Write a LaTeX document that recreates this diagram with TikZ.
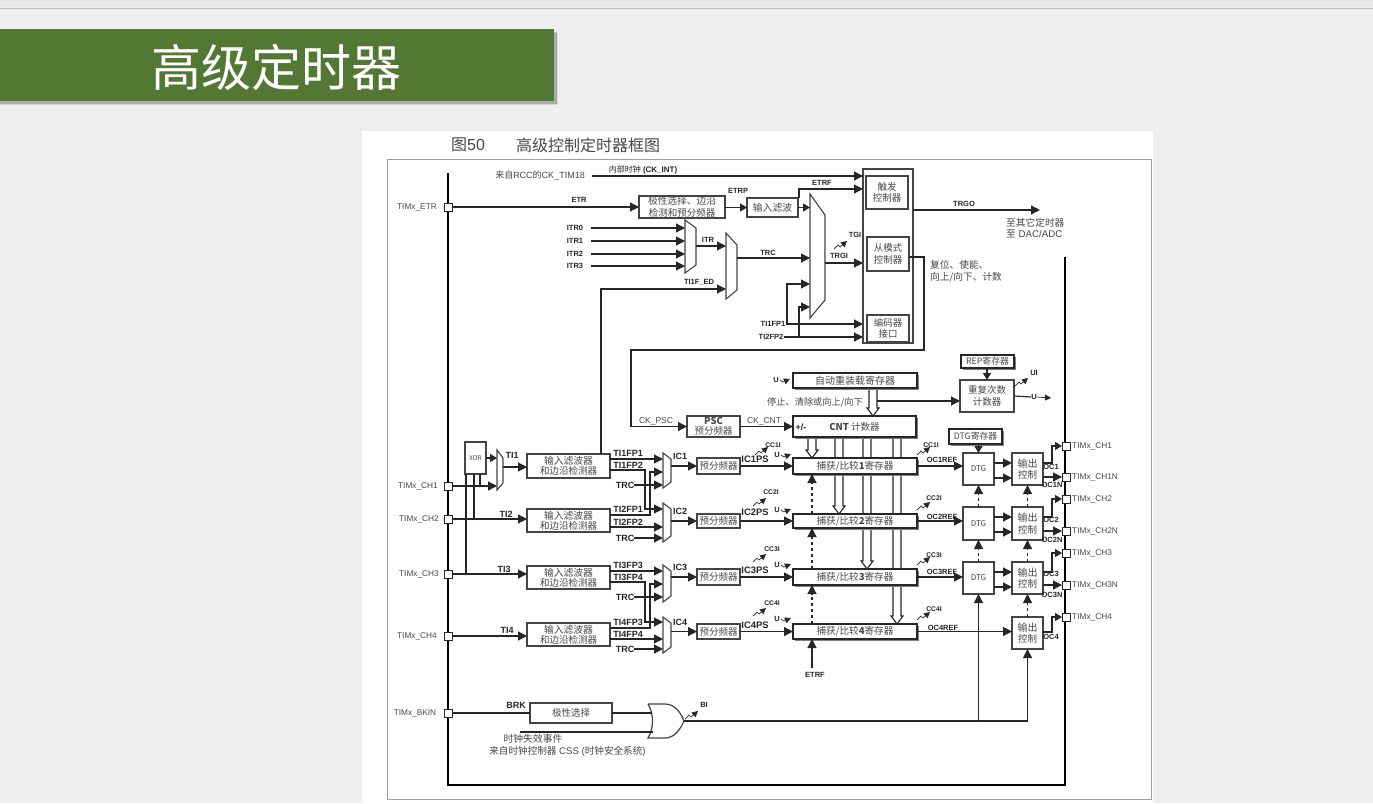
\documentclass[tikz,border=0pt]{standalone}
\usepackage{fontspec}
\setmainfont{Liberation Sans}
\newfontfamily\cjk{Noto Sans CJK SC}
\usetikzlibrary{arrows.meta,shadows,calc}
\pgfdeclarelayer{sheet}\pgfdeclarelayer{under}\pgfsetlayers{sheet,under,main}
\definecolor{bgc}{HTML}{EFEFEF}
\definecolor{wirec}{HTML}{262626}
\definecolor{boxc}{HTML}{444444}
\definecolor{txtc}{HTML}{484848}
\definecolor{ban}{HTML}{527833}
\newcommand\zh[1]{{\cjk #1}}
\newcommand\fs[1]{\pgfmathsetmacro\fsl{#1*1.2}\fontsize{#1}{\fsl}\selectfont}
\tikzset{
  wire/.style={draw=wirec,line width=1.15pt},
  arr/.style={wire,-{Triangle[length=9pt,width=9pt]}},
  sarr/.style={wire,-{Triangle[length=7pt,width=8pt]}},
  dash arr/.style={arr,dash pattern=on 3pt off 3pt},
  bus/.style={draw=black,line width=2pt},
  lab/.style={inner sep=0pt,text=wirec,font=\fs{7.5}\bfseries},
  big lab/.style={inner sep=0pt,text=wirec,font=\fs{9}\bfseries},
  pin lab/.style={inner sep=0pt,text=txtc,font=\fs{8.3}},
  zh lab/.style={inner sep=0pt,text=txtc,font=\fs{9.7},align=left},
  boxn/.style={draw=boxc,line width=1.3pt,fill=white,inner sep=0pt,outer sep=0pt,text=txtc,font=\cjk\fs{9.5},align=center},
  shbox/.style={boxn,draw=wirec,copy shadow={shadow xshift=2pt,shadow yshift=-2pt,fill=gray,draw=none}},
  sq/.style={draw=wirec,line width=1pt,fill=white,minimum size=8pt,inner sep=0pt,outer sep=0pt},
  dot/.style={fill=wirec,circle,inner sep=0pt,minimum size=2.5pt},
  hollowa/.style={draw=wirec,line width=1.1pt,fill=white},
  muxs/.style={draw=boxc,line width=1.1pt,fill=white},
  gate/.style={draw=boxc,line width=1.2pt,fill=white},
  zig/.style={draw=wirec,line width=.7pt,-{Triangle[length=6pt,width=6pt]}},
}
\newcommand\bx[7][]{%
  \pgfmathsetmacro\bxcx{(#3+#5)/2}\pgfmathsetmacro\bxcy{(#4+#6)/2}%
  \pgfmathsetmacro\bxw{#5-#3}\pgfmathsetmacro\bxh{#6-#4}%
  \node[boxn,#1,minimum width=\bxw pt,minimum height=\bxh pt] (#2) at (\bxcx,\bxcy) {#7};}
\newcommand\muxa[8]{% name xl ytop xr yrt yrb ybot yout
  \draw[muxs] (#2,#3) -- (#4,#5) -- (#4,#6) -- (#2,#7) -- cycle;
  \coordinate (#1-l) at (#2,#8); \coordinate (#1-r) at (#4,#8);}
\newcommand\hollowarrow[3]{% x, from, to
  \begin{pgfonlayer}{under}
  \path let \p1=(#2.south), \p2=(#3.north) in
    [hollowa] (#1-4,\y1) -- (#1-4,\y2+8pt) -- (#1-6,\y2+8pt) -- (#1,\y2) -- (#1+6,\y2+8pt) -- (#1+4,\y2+8pt) -- (#1+4,\y1);
  \end{pgfonlayer}}
\newcommand\zap[2]{\draw[zig] (#1,#2) -- ++(4,-4) -- ++(2,2) -- ++(7,-6);}
\newcommand\uarr[3]{\node[lab] (#1) at (#2,#3) {U};
  \draw[zig] ($(#1.east)+(1,0)$) -- ++(3,2) -- ++(7,-3);}
\begin{document}
\begin{tikzpicture}[x=1pt,y=-1pt]
\useasboundingbox (0,0) rectangle (1373,803);
\begin{pgfonlayer}{sheet}
\fill[bgc] (0,0) rectangle (1373,803);
\fill[black!9] (0,0) rectangle (1373,7);
\draw[black!25,line width=1pt] (0,8) -- (1373,8);
\fill[black,opacity=.10] (0,33) rectangle (558,105);
\fill[black,opacity=.20] (0,32) rectangle (556.5,103.5);
\fill[white] (362,131) rectangle (1153,803);
\end{pgfonlayer}
\node[draw=none,fill=ban,inner sep=0pt,minimum width=553.5pt,minimum height=72pt] (banner) at (276.75,65) {};
\node[inner sep=0pt,text=white,font=\cjk\fs{50}] (title) at (276,67) {高级定时器};
\node[draw=gray!75,line width=1pt,minimum width=764pt,minimum height=640pt,inner sep=0pt] (frame) at (769,479) {};
\node[inner sep=0pt,text=txtc,font=\fs{16}] (figno) at (468,145) {\zh{图}50};
\node[inner sep=0pt,text=txtc,font=\cjk\fs{16}] (figname) at (588,145) {高级控制定时器框图};
% bus
\coordinate (busA) at (448,173); \coordinate (busB) at (448,785);
\coordinate (busC) at (1065,785); \coordinate (busD) at (1065,257);
\draw[bus] (busA) -- (busB) -- (busC) -- (busD);
% pins
\foreach \n/\y/\t/\lx in {ETR/207/TIMx\_ETR/417,CHa/486/TIMx\_CH1/418,CHb/519/TIMx\_CH2/419,CHc/574/TIMx\_CH3/419,CHd/636/TIMx\_CH4/417,BK/713/TIMx\_BKIN/415}{
  \node[sq] (s\n) at (448,\y) {};
  \node[pin lab] (l\n) at (\lx,\y) {\t};
}
\foreach \n/\y/\t in {Oa/446/TIMx\_CH1,Ob/477/TIMx\_CH1N,Oc/499/TIMx\_CH2,Od/531/TIMx\_CH2N,Oe/553/TIMx\_CH3,Of/585/TIMx\_CH3N,Og/617/TIMx\_CH4}{
  \node[sq] (s\n) at (1066,\y) {};
  \node[pin lab,anchor=west] (l\n) at (1072,\y) {\t};
}
% clock
\node[pin lab,font=\fs{9}] (lrcc) at (540,176) {\zh{来自}RCC\zh{的}CK\_TIM18};
\node[lab,font=\fs{8}\bfseries] (lint) at (643,170) {\zh{\mdseries 内部时钟} (CK\_INT)};
\coordinate (rccs) at (592,176);
% ctrl block
\bx{outer}{863}{169}{913}{343}{}
\bx{trig}{866}{176}{908}{209}{触发\\控制器}
\bx{slave}{867}{237}{909}{271}{从模式\\控制器}
\bx{enc}{867}{315}{909}{342}{编码器\\接口}
\draw[arr] (rccs) -- (outer.west |- rccs);
% ETR
\bx{polar}{639}{196}{725}{218}{\fs{9.7}极性选择、边沿\\检测和预分频器}
\bx{inf}{747}{198}{798}{217}{\fs{9.8}输入滤波}
\node[lab] (letr) at (579,200) {ETR};
\node[lab] (letrp) at (738,191) {ETRP};
\node[lab] (letrf) at (822,183) {ETRF};
\draw[arr] (sETR) -- (polar.west |- sETR);
\draw[sarr] (polar.east |- inf) -- (inf.west);
\muxa{mb}{810}{194}{825}{215}{300}{318}{263}
\draw[sarr] (inf.east) -- (mb-l |- inf);
\coordinate (etrfs) at (799,198); \coordinate (etrfe) at (799,189);
\draw[arr] (etrfs) -- (etrfe) -- (outer.west |- etrfe);
% ITR
\muxa{mi}{685}{220}{696}{228}{265}{273}{246}
\muxa{mt}{726}{233}{737}{245}{290}{299}{258}
\foreach \i/\y in {0/228,1/241,2/254,3/266}{
  \node[lab] (itr\i) at (575,\y) {ITR\i};
  \coordinate (its\i) at (591,\y);
  \draw[arr] (its\i) -- (mi-l |- its\i);
}
\node[lab] (litr) at (708,240) {ITR};
\coordinate (mtin) at (726,246);
\draw[arr] (mi-r) -- (mtin);
\node[lab] (ltrc) at (768,253) {TRC};
\draw[arr] (mt-r) -- (mb-l |- mt-r);
\node[lab] (ltied) at (699,282) {TI1F\_ED};
% TRGI etc
\node[lab] (ltgi) at (855,235) {TGI};
\zap{834}{249}
\node[lab] (ltrgi) at (839,256) {TRGI};
\draw[arr] (mb-r) -- (outer.west |- mb-r);
\node[lab] (fpa) at (773,324) {TI1FP1};
\node[lab] (fpb) at (771,337) {TI2FP2};
\draw[arr] (fpa.east) -- (outer.west |- fpa);
\draw[arr] (fpb.east) -- (outer.west |- fpb);
\coordinate (va) at (787,324); \coordinate (mba) at (810,284);
\coordinate (vb) at (799,337); \coordinate (mbb) at (810,307);
\draw[arr] (va) |- (mba);
\draw[arr] (vb) |- (mbb);
\node[dot] (da) at (va) {}; \node[dot] (db) at (vb) {};
\node[lab] (ltrgo) at (964,204) {TRGO};
\coordinate (trgoe) at (1040,210);
\draw[arr] (outer.east |- trgoe) -- (trgoe);
\node[zh lab,anchor=west] (lto) at (1006,228) {\zh{至其它定时器}\\\zh{至} DAC/ADC};
\node[zh lab,anchor=west] (lrst) at (930,271) {\zh{复位、使能、}\\\zh{向上/向下、计数}};
% CNT row
\bx[shbox]{reload}{793}{373}{917}{388}{\fs{10}自动重装载寄存器}
\bx[shbox]{cnt}{793}{416}{916}{437}{\textbf{CNT} 计数器}
\bx{psc}{687}{416}{740}{437}{\fs{9.5}\textbf{PSC}\\[-1.5pt]预分频器}
\node[lab,font=\fs{9}\bfseries] (lpm) at (801,427) {+/-};
\node[pin lab,font=\fs{8.5}] (lpsc) at (656,421) {CK\_PSC};
\node[pin lab,font=\fs{8.5}] (lcnt) at (764,421) {CK\_CNT};
\coordinate (bendA) at (924,350); \coordinate (bendB) at (631,350); \coordinate (slout) at (909,257);
\draw[arr] (slout) -| (bendA) -- (bendB) |- (psc.west);
\draw[arr] (psc.east) -- (cnt.west);
\uarr{ura}{776}{380}
\node[zh lab,font=\cjk\fs{9.2}] (lstop) at (815,402) {停止、清除或向上/向下};
\hollowarrow{873}{reload}{cnt}
% repetition
\bx{repc}{960}{380}{1014}{412}{重复次数\\计数器}
\bx[shbox]{repr}{961}{355}{1014}{368}{\fs{8.8}REP寄存器}
\draw[sarr] (repc.north |- repr.south) -- (repc.north);
\coordinate (reps) at (877,401);
\draw[arr] (reps) -- (repc.west |- reps);
\node[lab] (lui) at (1034,373) {UI};
\zap{1015}{386}
\node[lab] (lua) at (1034,397) {U};
\coordinate (uas) at (1014,396);
\draw[wire] (uas) -- (lua.west);
\coordinate (uae) at (1051,398);
\draw[zig] (lua.east) -- (uae);
% input stage
\foreach \i/\ya/\yb/\mt/\mrt/\mrb/\mb/\fa/\fb/\ic/\ps/\cci/\ccx/\ccy/\zx/\zy/\uy in {
  1/458/474/453/459/482/488/454/478/456/459/445/773/445/755/455/455,
  2/514/528/503/509/536/542/509/532/511/512/492/771/492/753/506/510,
  3/569/585/565/571/596/602/566/589/567/570/549/772/549/753/562/565,
  4/624/639/617/623/647/653/623/646/622/625/603/772/603/753/616/619}{
  \bx{filt\i}{527}{\fa}{610}{\fb}{\fs{9.8}输入滤波器\\[-1pt]和边沿检测器}
  \bx{pre\i}{697}{\ya}{740}{\yb}{预分频器}
  \bx[shbox]{cc\i}{793}{\ya}{917}{\yb}{\fs{9.6}捕获/比较\textbf{\i}寄存器}
  \pgfmathsetmacro\ym{(\ya+\yb)/2}
  \muxa{mux\i}{663}{\mt}{671}{\mrt}{\mrb}{\mb}{\ym}
  \node[big lab] (lic\i) at (680,\ic) {IC\i};
  \node[big lab,font=\fs{9.4}\bfseries] (lps\i) at (755,\ps) {IC\i PS};
  \node[lab,font=\fs{6.8}\bfseries] (lcc\i) at (\ccx,\ccy) {CC\i I};
  \zap{\zx}{\zy}
  \uarr{ur\i}{777}{\uy}
  \draw[arr] (mux\i-r) -- (pre\i.west |- mux\i-r);
  \draw[arr] (pre\i.east |- cc\i) -- (cc\i.west);
}
\foreach \n/\y/\t in {a/453/TI1FP1,b/465/TI1FP2,c/509/TI2FP1,d/522/TI2FP2,e/565/TI3FP3,f/577/TI3FP4,g/622/TI4FP3,h/634/TI4FP4}{
  \node[big lab] (lfp\n) at (628,\y) {\t};
}
\foreach \pa/\qa/\ya/\yb/\yc/\ys/\yd/\ye/\yf/\yt in {1/2/459/472/485/470/509/527/538/515,3/4/571/584/597/582/622/639/649/628}{
  \coordinate (fa\pa) at (610,\ya); \coordinate (fe\pa) at (610,\ye);
  \coordinate (fs\pa) at (610,\ys); \coordinate (ft\pa) at (610,\yt);
  \coordinate (xs\pa) at (645,\ys); \coordinate (xd\pa) at (645,\yd);
  \coordinate (xt\pa) at (650,\yt); \coordinate (xb\pa) at (650,\yb);
  \draw[arr] (fa\pa) -- (mux\pa-l |- fa\pa);
  \draw[arr] (fe\pa) -- (mux\qa-l |- fe\pa);
  \draw[arr] (fs\pa) -- (xs\pa) -- (xd\pa) -- (mux\qa-l |- xd\pa);
  \draw[arr] (ft\pa) -- (xt\pa) -- (xb\pa) -- (mux\pa-l |- xb\pa);
  \node[big lab] (trc\pa) at (625,\yc) {TRC};
  \node[big lab] (trc\qa) at (625,\yf) {TRC};
  \draw[arr] (trc\pa.east) -- (mux\pa-l |- trc\pa);
  \draw[arr] (trc\qa.east) -- (mux\qa-l |- trc\qa);
}
% XOR
\bx{xorb}{465}{442}{486}{474}{\fs{6.5}XOR}
\muxa{mn}{497}{450}{503}{458}{483}{490}{467}
\coordinate (mna) at (497,458);
\draw[sarr] (xorb.east |- mna) -- (mna);
\draw[arr] (sCHa) -- (mn-l |- sCHa);
\draw[arr] (mn-r) -- (filt1.west |- mn-r);
\node[big lab] (lti1) at (512,455) {TI1};
\node[big lab] (lti2) at (506,514) {TI2};
\node[big lab] (lti3) at (504,569) {TI3};
\node[big lab] (lti4) at (507,630) {TI4};
\draw[arr] (sCHb) -- (filt2.west |- sCHb);
\draw[arr] (sCHc) -- (filt3.west |- sCHc);
\draw[arr] (sCHd) -- (filt4.west |- sCHd);
\coordinate (xa) at (480,486); \coordinate (xb) at (474,519); \coordinate (xc) at (466,574);
\draw[wire] (xa |- xorb.south) -- (xa); \node[dot] (dxa) at (xa) {};
\draw[wire] (xb |- xorb.south) -- (xb); \node[dot] (dxb) at (xb) {};
\draw[wire] (xc |- xorb.south) -- (xc); \node[dot] (dxc) at (xc) {};
\coordinate (tix) at (601,289);
\draw[arr] (tix |- filt1.north) -- (tix) -- (mt-l |- tix);
% hollow buses
\hollowarrow{812}{cnt}{cc1}
\hollowarrow{839}{cnt}{cc2}
\hollowarrow{867}{cnt}{cc3}
\hollowarrow{897}{cnt}{cc4}
\coordinate (vx) at (812,0);
\draw[dash arr] (vx |- cc2.north) -- (vx |- cc1.south);
\draw[dash arr] (vx |- cc3.north) -- (vx |- cc2.south);
\draw[dash arr] (vx |- cc4.north) -- (vx |- cc3.south);
\coordinate (etrfb) at (812,668);
\node[lab] (letrfb) at (815,675) {ETRF};
\draw[arr] (etrfb) -- (vx |- cc4.south);
% outputs
\foreach \i/\ya/\yb/\ua/\ub/\oref/\ccx/\ccy/\zy/\ol/\on/\sa/\sb in {
  1/453/485/463/478/460/931/445/455/467/485/Oa/Ob,
  2/507/540/517/532/517/934/498/510/520/540/Oc/Od,
  3/562/594/572/587/572/934/555/565/574/595/Oe/Of}{
  \bx{dtg\i}{963}{\ya}{994}{\yb}{\fs{8}DTG}
  \bx{ctl\i}{1012}{\ya}{1043}{\yb}{\fs{10}输出\\控制}
  \coordinate (du\i) at (994,\ua); \coordinate (dl\i) at (994,\ub);
  \draw[arr] (du\i) -- (ctl\i.west |- du\i);
  \draw[arr] (dl\i) -- (ctl\i.west |- dl\i);
  \draw[arr] (cc\i.east) -- (dtg\i.west |- cc\i);
  \coordinate (ov\i) at (1052,\ua);
  \draw[sarr] (ctl\i.east |- ov\i) -- (ov\i) |- (s\sa.west);
  \draw[arr] (ctl\i.east |- s\sb) -- (s\sb.west);
  \node[lab] (lro\i) at (942,\oref) {OC\i REF};
  \node[lab,font=\fs{6.8}\bfseries] (lcr\i) at (\ccx,\ccy) {CC\i I};
  \zap{917}{\zy}
  \node[lab] (lol\i) at (1051,\ol) {OC\i};
  \node[lab] (lon\i) at (1052,\on) {OC\i N};
}
\bx{ctl4}{1012}{617}{1043}{649}{\fs{10}输出\\控制}
\draw[arr] (cc4.east) -- (ctl4.west |- cc4);
\coordinate (ov4) at (1052,632);
\draw[sarr] (ctl4.east |- ov4) -- (ov4) |- (sOg.west);
\node[lab] (lro4) at (943,628) {OC4REF};
\node[lab,font=\fs{6.8}\bfseries] (lcr4) at (934,609) {CC4I};
\zap{917}{620}
\node[lab] (lol4) at (1051,637) {OC4};
\bx[shbox,draw=wirec]{dtgr}{949}{429}{1002}{444}{\fs{8.8}DTG寄存器}
\draw[sarr] (dtg1.north |- dtgr.south) -- (dtg1.north);
\draw[dash arr] (dtg2.north) -- (dtg1.south);
\draw[dash arr] (dtg3.north) -- (dtg2.south);
\draw[dash arr] (ctl2.north) -- (ctl1.south);
\draw[dash arr] (ctl3.north) -- (ctl2.south);
\draw[dash arr] (ctl4.north) -- (ctl3.south);
% break
\bx{brk}{530}{703}{612}{723}{极性选择}
\node[big lab] (lbrk) at (516,705) {BRK};
\draw[wire] (sBK) -- (brk.west);
\draw[gate] (648,704) -- (665,704) .. controls (675,704) and (681,713) .. (684,721)
   .. controls (680,730) and (674,738) .. (665,738) -- (648,738)
   .. controls (654,728) and (654,714) .. (648,704);
\coordinate (orA) at (651.5,713); \coordinate (orB) at (652.5,732); \coordinate (orOut) at (684,721);
\coordinate (cssS) at (520,732);
\draw[wire] (brk.east) -- (orA);
\draw[wire] (cssS) -- (orB);
\node[lab] (lbi) at (704,705) {BI};
\zap{685}{719}
\draw[arr] (orOut) -| (ctl4.south);
\coordinate (bd) at (dtg3.south |- orOut);
\draw[arr] (bd) -- (dtg3.south);
\node[dot] (dbd) at (bd) {};
\node[zh lab,font=\cjk\fs{9.8}] (lclk) at (533,739) {时钟失效事件};
\node[zh lab,font=\fs{9.6}] (lcss) at (567.5,751) {\zh{来自时钟控制器} CSS (\zh{时钟安全系统})};
\end{tikzpicture}
\end{document}
